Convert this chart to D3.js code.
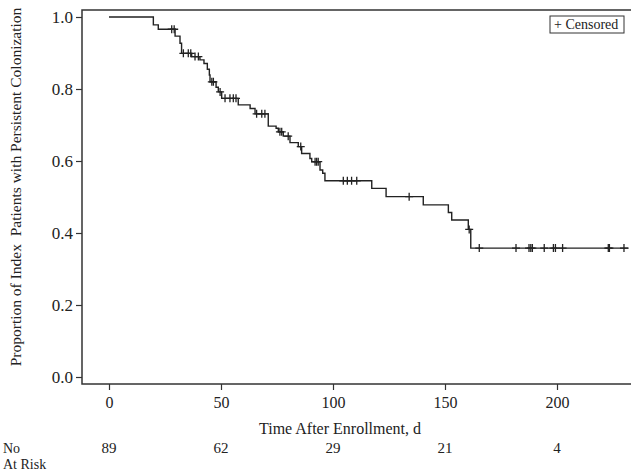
<!DOCTYPE html>
<html>
<head>
<meta charset="utf-8">
<script src="https://cdn.jsdelivr.net/npm/d3@7"></script>
<style>
body { margin: 0; background: #fff; }
text { font-family: "Liberation Serif", "Times New Roman", serif; fill: #222; }
</style>
</head>
<body>
<div id="km"></div>
<script>
// Kaplan-Meier steps: time of drop and survival after drop
var stepTimes = [0, 19.8, 22, 29.5, 31.7, 32.4, 36.9, 40.6, 42.4, 43.9, 44.8, 45.1, 47.8, 48.8, 50.3,
    57.7, 63, 65.2, 71.1, 74.6, 75.6, 77.8, 80.8, 84.5, 86, 89.7, 90.5, 94.2, 95.4, 96.4,
    117.3, 123.7, 140.3, 151.5, 153, 160.4, 161.5];
var stepSurv = [1.0, 0.978, 0.966, 0.947, 0.927, 0.899, 0.89, 0.881, 0.871, 0.855, 0.839, 0.82, 0.805, 0.792, 0.774,
    0.756, 0.746, 0.731, 0.697, 0.691, 0.681, 0.669, 0.651, 0.64, 0.621, 0.607, 0.598, 0.575, 0.566, 0.545,
    0.524, 0.501, 0.478, 0.457, 0.436, 0.41, 0.358];
var lastTime = 232;

// censored observations
var censorTimes = [28, 29.1, 33.2, 35.4, 36.5, 38.4, 39.9, 45.9, 46.6, 49.6, 51.8, 54, 55.5, 56.7,
    65.9, 68.2, 69.6, 76.3, 77.1, 80, 85.6, 92, 92.7, 93.4, 104.6, 106.4, 108.3, 110.6,
    134, 160.8, 165.3, 181.7, 187.5, 188.3, 189, 194.3, 198.4, 199.3, 202.5, 222.9, 223.4, 229.9];

var xTicks = [0, 50, 100, 150, 200];
var yTicks = [0, 0.2, 0.4, 0.6, 0.8, 1.0];
var atRiskTimes = [0, 50, 100, 150, 200];
var atRisk = [89, 62, 29, 21, 4];

var width = 631;
var height = 473;

var x = d3.scaleLinear().domain([0, 200]).range([109, 557]);
var y = d3.scaleLinear().domain([0, 1]).range([377, 17]);

var frame = { left: 82, top: 10, right: 632, bottom: 384 };

var svg = d3.select('#km')
    .append('svg')
    .attr('width', width)
    .attr('height', height);

// survival at time t (step function)
function survAt(t) {
    var s = stepSurv[0];
    for (var i = 0; i < stepTimes.length; i++) {
        if (stepTimes[i] <= t) s = stepSurv[i];
    }
    return s;
}

var pts = stepTimes.map(function (t, i) { return [t, stepSurv[i]]; });
pts.push([lastTime, stepSurv[stepSurv.length - 1]]);

var line = d3.line()
    .x(function (d) { return x(d[0]); })
    .y(function (d) { return y(d[1]); })
    .curve(d3.curveStepAfter);

svg.append('path')
    .datum(pts)
    .attr('d', line)
    .attr('fill', 'none')
    .attr('stroke', '#222')
    .attr('stroke-width', 1.4);

// censor marks
svg.selectAll('.censor')
    .data(censorTimes)
    .enter()
    .append('path')
    .attr('class', 'censor')
    .attr('transform', function (d) {
        return 'translate(' + x(d) + ',' + y(survAt(d)) + ')';
    })
    .attr('d', 'M-4,0H4M0,-4V4')
    .attr('stroke', '#222')
    .attr('stroke-width', 1.3)
    .attr('fill', 'none');

// frame
svg.append('rect')
    .attr('x', frame.left)
    .attr('y', frame.top)
    .attr('width', frame.right - frame.left)
    .attr('height', frame.bottom - frame.top)
    .attr('fill', 'none')
    .attr('stroke', '#333')
    .attr('stroke-width', 1.5);

// y axis
var yAxis = d3.axisLeft(y)
    .tickValues(yTicks)
    .tickFormat(d3.format('.1f'))
    .tickSize(6)
    .tickPadding(3);

var gy = svg.append('g')
    .attr('transform', 'translate(' + frame.left + ',0)')
    .call(yAxis);
gy.select('.domain').remove();
gy.selectAll('line').attr('stroke', '#333').attr('stroke-width', 1.2);
gy.selectAll('text').style('font-size', '17px').style('font-family', '"Liberation Serif", serif').attr('fill', '#222');

// x axis
var xAxis = d3.axisBottom(x)
    .tickValues(xTicks)
    .tickSize(6)
    .tickPadding(7);

var gx = svg.append('g')
    .attr('transform', 'translate(0,' + frame.bottom + ')')
    .call(xAxis);
gx.select('.domain').remove();
gx.selectAll('line').attr('stroke', '#333').attr('stroke-width', 1.2);
gx.selectAll('text').style('font-size', '16px').style('font-family', '"Liberation Serif", serif').attr('fill', '#222');

// axis titles
svg.append('text')
    .attr('x', 340)
    .attr('y', 434)
    .attr('text-anchor', 'middle')
    .style('font-size', '16px')
    .text('Time After Enrollment, d');

svg.append('text')
    .attr('transform', 'translate(21,' + 187 + ') rotate(-90)')
    .attr('text-anchor', 'middle')
    .style('font-size', '15.5px')
    .style('white-space', 'pre')
    .text('Proportion of Index  Patients with Persistent Colonization');

// number at risk
svg.append('text')
    .attr('x', 3)
    .attr('y', 453)
    .style('font-size', '14px')
    .text('No');
svg.append('text')
    .attr('x', 3)
    .attr('y', 469)
    .style('font-size', '14px')
    .text('At Risk');

svg.selectAll('.risk')
    .data(atRisk)
    .enter()
    .append('text')
    .attr('class', 'risk')
    .attr('x', function (d, i) { return x(atRiskTimes[i]); })
    .attr('y', 453)
    .attr('text-anchor', 'middle')
    .style('font-size', '15px')
    .text(function (d) { return d; });

// legend
var legend = svg.append('g')
    .attr('transform', 'translate(550,16)');
legend.append('rect')
    .attr('width', 74)
    .attr('height', 17)
    .attr('fill', '#fff')
    .attr('stroke', '#333')
    .attr('stroke-width', 1);
legend.append('text')
    .attr('x', 4)
    .attr('y', 13)
    .style('font-size', '14px')
    .style('white-space', 'pre')
    .text('+ Censored');
</script>
</body>
</html>
